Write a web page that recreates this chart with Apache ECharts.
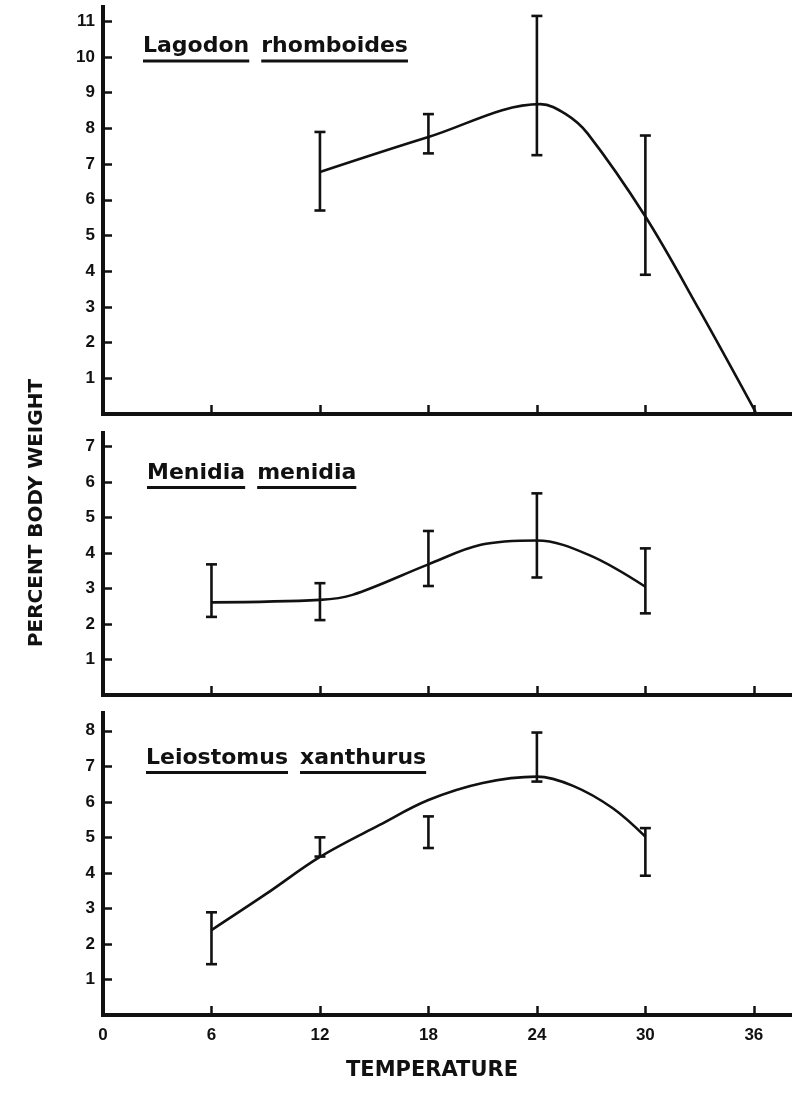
<!DOCTYPE html>
<html><head><meta charset="utf-8">
<script src="https://cdn.jsdelivr.net/npm/echarts@6/dist/echarts.min.js"></script>
<style>html,body{margin:0;padding:0;background:#fff}#chart{width:796px;height:1096px}</style>
</head><body><div id="chart"></div>
<script>
// ---- data ----
const xTickLabels = [0, 6, 12, 18, 24, 30, 36];
const xTickMarks = [6, 12, 18, 24, 30, 36];
const speciesNames = [['Lagodon', 'rhomboides'], ['Menidia', 'menidia'], ['Leiostomus', 'xanthurus']];
const yTicksLagodon = [1, 2, 3, 4, 5, 6, 7, 8, 9, 10, 11];
const yTicksMenidia = [1, 2, 3, 4, 5, 6, 7];
const yTicksLeiostomus = [1, 2, 3, 4, 5, 6, 7, 8];

// Lagodon rhomboides
const lagodonTemp = [12, 18, 24, 30];
const lagodonLow = [5.7, 7.3, 7.25, 3.9];
const lagodonHigh = [7.9, 8.4, 11.15, 7.8];
const lagodonCurveX = [12, 18, 24.2, 25.6, 26.8, 30, 33, 36.1];
const lagodonCurveY = [6.78, 7.76, 8.68, 8.4, 7.86, 5.53, 2.9, 0.05];

// Menidia menidia
const menidiaTemp = [6, 12, 18, 24, 30];
const menidiaLow = [2.2, 2.11, 3.07, 3.31, 2.3];
const menidiaHigh = [3.68, 3.15, 4.62, 5.68, 4.13];
const menidiaCurveX = [6, 12, 13.8, 18, 20.9, 24, 26.9, 30];
const menidiaCurveY = [2.61, 2.68, 2.82, 3.68, 4.23, 4.35, 3.94, 3.05];

// Leiostomus xanthurus
const leiostomusTemp = [6, 12, 18, 24, 30];
const leiostomusLow = [1.43, 4.46, 4.7, 6.57, 3.92];
const leiostomusHigh = [2.89, 5.0, 5.59, 7.95, 5.26];
const leiostomusCurveX = [6, 9, 12, 15.3, 18, 21, 24, 26, 28.2, 30];
const leiostomusCurveY = [2.39, 3.4, 4.45, 5.35, 6.05, 6.53, 6.71, 6.45, 5.82, 5.02];

// ---- layout ----
const INK = '#111';
const tickFont = { fontFamily: 'Liberation Sans', fontWeight: 'bold', fontSize: 17, color: INK };
const panels = [
  { top: 7, height: 407, max: 11.4, ticks: yTicksLagodon, temp: lagodonTemp, low: lagodonLow, high: lagodonHigh, cx: lagodonCurveX, cy: lagodonCurveY, name: speciesNames[0], tx: 143, ty: 35.5 },
  { top: 433, height: 262, max: 7.38, ticks: yTicksMenidia, temp: menidiaTemp, low: menidiaLow, high: menidiaHigh, cx: menidiaCurveX, cy: menidiaCurveY, name: speciesNames[1], tx: 147, ty: 462 },
  { top: 713, height: 302, max: 8.5, ticks: yTicksLeiostomus, temp: leiostomusTemp, low: leiostomusLow, high: leiostomusHigh, cx: leiostomusCurveX, cy: leiostomusCurveY, name: speciesNames[2], tx: 146, ty: 747 }
];

const grid = [], xAxis = [], yAxis = [], series = [], graphic = [];
const titleFont = 'bold 22px "DejaVu Sans"';
const measureCtx = document.createElement('canvas').getContext('2d');
measureCtx.font = titleFont;

panels.forEach((p, i) => {
  grid.push({ left: 103, right: 6, top: p.top, height: p.height });
  const last = i === panels.length - 1;
  xAxis.push({
    type: 'value', gridIndex: i, min: 0, max: 38,
    axisLine: { show: true, onZero: false, lineStyle: { color: INK, width: 4, cap: 'square' } },
    axisTick: { show: true, inside: true, length: 9, customValues: xTickMarks, lineStyle: { color: INK, width: 2.5 } },
    axisLabel: last ? Object.assign({ show: true, margin: 12, customValues: xTickLabels }, tickFont) : { show: false },
    splitLine: { show: false }
  });
  yAxis.push({
    type: 'value', gridIndex: i, min: 0, max: p.max,
    axisLine: { show: true, lineStyle: { color: INK, width: 4, cap: 'square' } },
    axisTick: { show: true, inside: true, length: 9, customValues: p.ticks, lineStyle: { color: INK, width: 2.5 } },
    axisLabel: Object.assign({ show: true, margin: 8, customValues: p.ticks }, tickFont),
    splitLine: { show: false }
  });
  series.push({
    type: 'line', xAxisIndex: i, yAxisIndex: i, smooth: 0.35, symbol: 'none',
    lineStyle: { color: INK, width: 2.6 },
    data: p.cx.map((x, k) => [x, p.cy[k]]),
    silent: true, animation: false
  });
  series.push({
    type: 'custom', xAxisIndex: i, yAxisIndex: i,
    encode: { x: 0, y: [1, 2] },
    data: p.temp.map((t, k) => [t, p.low[k], p.high[k]]),
    renderItem: (params, api) => {
      const x = api.value(0);
      const a = api.coord([x, api.value(2)]);
      const b = api.coord([x, api.value(1)]);
      const w = 5.5;
      const st = { stroke: INK, lineWidth: 2.6 };
      return { type: 'group', children: [
        { type: 'line', shape: { x1: a[0], y1: a[1], x2: b[0], y2: b[1] }, style: st },
        { type: 'line', shape: { x1: a[0] - w, y1: a[1], x2: a[0] + w, y2: a[1] }, style: st },
        { type: 'line', shape: { x1: b[0] - w, y1: b[1], x2: b[0] + w, y2: b[1] }, style: st }
      ] };
    },
    silent: true, animation: false
  });
  // species title, each word underlined
  let x = p.tx;
  p.name.forEach(word => {
    const w = measureCtx.measureText(word).width;
    graphic.push({ type: 'text', left: x, top: p.ty, style: { text: word, font: titleFont, fill: INK } });
    graphic.push({ type: 'rect', left: x, top: p.ty + 24, shape: { width: w, height: 3 }, style: { fill: INK } });
    x += w + 12;
  });
});

graphic.push({
  type: 'text', x: 37, y: 513, rotation: Math.PI / 2,
  style: { text: 'PERCENT BODY WEIGHT', font: 'bold 20px "DejaVu Sans"', fill: INK, align: 'center', verticalAlign: 'middle' }
});
graphic.push({
  type: 'text', x: 432, y: 1071,
  style: { text: 'TEMPERATURE', font: 'bold 21px "DejaVu Sans"', fill: INK, align: 'center', verticalAlign: 'middle' }
});

const chart = echarts.init(document.getElementById('chart'), null, { renderer: 'canvas' });
chart.setOption({
  backgroundColor: '#fff',
  animation: false,
  grid, xAxis, yAxis, series, graphic
});
</script></body></html>
